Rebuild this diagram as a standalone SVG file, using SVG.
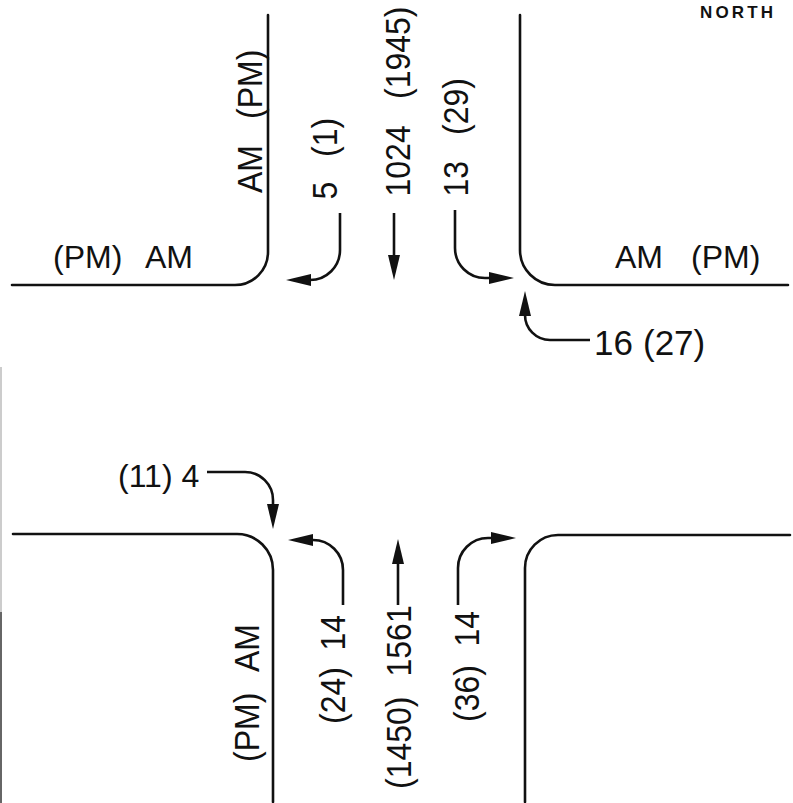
<svg xmlns="http://www.w3.org/2000/svg" width="793" height="803" viewBox="0 0 793 803">
<style>
.road{fill:none;stroke:#111;stroke-width:2.6;stroke-linecap:round}
.arr{fill:none;stroke:#111;stroke-width:2.6}
.t{font-family:"Liberation Sans",Arial,Helvetica,sans-serif;font-size:32px;fill:#111}
.n{font-family:"Liberation Sans",Arial,Helvetica,sans-serif;font-size:17px;font-weight:bold;fill:#111}
</style>
<defs>
<marker id="ah" viewBox="0 0 25 12" markerWidth="25" markerHeight="12" refX="1" refY="6" orient="auto" markerUnits="userSpaceOnUse">
<path d="M0,0 L25,6 L0,12 z" fill="#111"/>
</marker>
</defs>
<rect width="793" height="803" fill="#fff"/>
<line x1="1" y1="367" x2="1" y2="612" stroke="#bbb" stroke-width="1.5"/>
<line x1="1" y1="612" x2="1" y2="803" stroke="#333" stroke-width="1.5"/>
<g id="roads">
<path class="road" d="M268,15 V252 A33,33 0 0 1 235,285 H12"/>
<path class="road" d="M520,15 V250 A35,35 0 0 0 555,285 H788"/>
<path class="road" d="M13,534 H237 A36,36 0 0 1 273,570 V802"/>
<path class="road" d="M790,535 H558 A33,33 0 0 0 525,568 V802"/>
</g>
<g id="north"><text class="n" x="700" y="17.5" textLength="73" lengthAdjust="spacing">NORTH</text></g>
<g id="labels-approach">
<text class="t" x="53" y="268">(PM) <tspan x="145">AM</tspan></text>
<text class="t" x="615" y="268">AM <tspan x="691">(PM)</tspan></text>
<text class="t" transform="translate(262,193) rotate(-90) scale(1,1.12)">AM <tspan x="74">(PM)</tspan></text>
<text class="t" transform="translate(259,762) rotate(-90) scale(1,1.12)">(PM) <tspan x="90">AM</tspan></text>
</g>
<g id="connectors">
<path class="arr" d="M340,213 V250 A30,30 0 0 1 310,280" marker-end="url(#ah)"/>
<path class="arr" d="M394,213 V256" marker-end="url(#ah)"/>
<path class="arr" d="M455,210 V248 A30,30 0 0 0 485,278 H490" marker-end="url(#ah)"/>
<path class="arr" d="M590,340 H550 A25,25 0 0 1 525,315" marker-end="url(#ah)"/>
<path class="arr" d="M207,472 H245 A28,28 0 0 1 273,500 V505" marker-end="url(#ah)"/>
<path class="arr" d="M343,605 V570 A30,30 0 0 0 313,540 H312" marker-end="url(#ah)"/>
<path class="arr" d="M398,605 V563" marker-end="url(#ah)"/>
<path class="arr" d="M458,605 V568 A30,30 0 0 1 488,538 H492" marker-end="url(#ah)"/>
</g>
<g id="sb-left"><text class="t" transform="translate(337,199.5) rotate(-90) scale(1,1.12)">5 <tspan x="42.5">(1)</tspan></text></g>
<g id="sb-thru"><text class="t" transform="translate(410,196.5) rotate(-90) scale(1,1.12)">1024 <tspan x="97.5">(1945)</tspan></text></g>
<g id="sb-right"><text class="t" transform="translate(468,196.5) rotate(-90) scale(1,1.12)">13 <tspan x="61.5">(29)</tspan></text></g>
<g id="wb-right"><text class="t" x="594" y="355" style="font-size:35px">16 <tspan x="643">(27)</tspan></text></g>
<g id="eb-right"><text class="t" x="118" y="487">(11) 4</text></g>
<g id="nb-left"><text class="t" transform="translate(345,724) rotate(-90) scale(1,1.12)">(24) <tspan x="73.5">14</tspan></text></g>
<g id="nb-thru"><text class="t" transform="translate(411,789) rotate(-90) scale(1,1.12)">(1450) <tspan x="112.5">1561</tspan></text></g>
<g id="nb-right"><text class="t" transform="translate(479,722) rotate(-90) scale(1,1.12)">(36) <tspan x="75.5">14</tspan></text></g>
</svg>
